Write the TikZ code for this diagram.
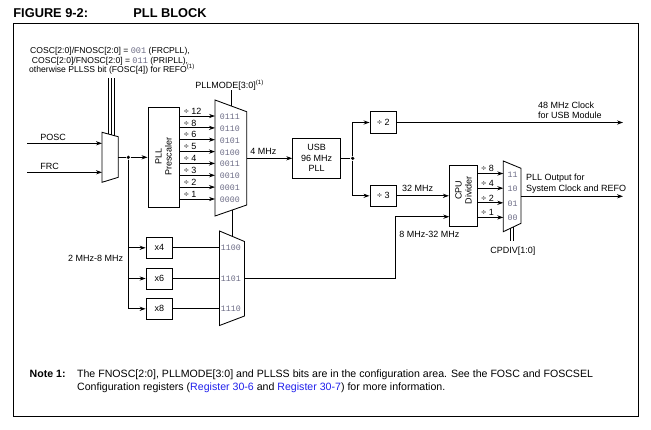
\documentclass[tikz,border=0pt]{standalone}
\usepackage{fontspec}
\setmainfont{Liberation Sans}
\newfontfamily\monof{Liberation Mono}
\usetikzlibrary{arrows.meta}
\definecolor{muxgray}{rgb}{0.42,0.42,0.52}
\definecolor{linkblue}{rgb}{0.12,0.12,0.92}
\begin{document}
\begin{tikzpicture}[x=1pt,y=-1pt,line width=0.85pt,
  lbl/.style={inner sep=0pt,font=\fontsize{9}{10}\selectfont},
  annl/.style={inner sep=0pt,anchor=base,font=\fontsize{8.6}{10}\selectfont},
  mlbl/.style={inner sep=0pt,anchor=west,font=\monof\fontsize{8.3}{9}\selectfont,text=muxgray},
  blk/.style={draw,inner sep=0pt,font=\fontsize{9}{10.5}\selectfont,align=center},
  arr/.style={-{Stealth[length=6pt,width=4.2pt]}},
  jdot/.style={circle,fill,inner sep=0pt,minimum size=3.6pt},
  ttlf/.style={anchor=base west,inner sep=0pt,font=\fontsize{12.8}{14}\bfseries\selectfont},
  notef/.style={anchor=base west,inner sep=0pt,font=\fontsize{10.6}{12}\selectfont}]
\useasboundingbox (0,0) rectangle (651,429);
% title and frame
\node[ttlf] (fig) at (13,17.8) {FIGURE 9-2:};
\node[ttlf] (ttl) at (133,17.8) {PLL BLOCK};
\draw[line width=0.95pt] (13,23) rectangle (638,416);
% annotation
\node[annl] (ann1) at (110,53.3) {COSC[2:0]/FNOSC[2:0] = {\monof\color{muxgray}001} (FRCPLL),};
\node[annl] (ann2) at (110,63.3) {COSC[2:0]/FNOSC[2:0] = {\monof\color{muxgray}011} (PRIPLL),};
\node[annl] (ann3) at (112,72.7) {otherwise PLLSS bit (FOSC[4]) for REFO\textsuperscript{(1)}};
% mux 1
\coordinate (m1a) at (102,132.3); \coordinate (m1b) at (118.3,136.7);
\coordinate (m1c) at (118.3,177.3); \coordinate (m1d) at (102,182.3);
\draw (m1a) -- (m1b) -- (m1c) -- (m1d) -- cycle;
\coordinate (m1i1) at (102,143.3); \coordinate (m1i2) at (102,172.3);
\coordinate (m1o) at (118.3,157.3);
\coordinate (s1t) at (108,78); \coordinate (s1b) at (108,133.9);
\coordinate (s2t) at (111,78); \coordinate (s2b) at (111,134.7);
\coordinate (s3t) at (114,78); \coordinate (s3b) at (114,135.5);
\draw (s1t) -- (s1b); \draw (s2t) -- (s2b); \draw (s3t) -- (s3b);
\coordinate (posc) at (27,143.3); \coordinate (frc) at (27,172.3);
\node[lbl,anchor=base west] (poscl) at (40,140) {POSC};
\node[lbl,anchor=base west] (frcl) at (40,169) {FRC};
\draw[arr] (posc) -- (m1i1);
\draw[arr] (frc) -- (m1i2);
% prescaler
\node[jdot] (d1) at (128.3,157.3) {};
\node[blk,minimum width=31.3pt,minimum height=100pt] (pre) at (163.6,157.3) {};
\node[lbl,rotate=90,align=center] (pret) at (163.6,156.7) {PLL\\Prescaler};
\draw (m1o) -- (d1);
\draw[arr] (d1) -- (pre.west);
% x4 x6 x8
\node[blk,minimum width=26.7pt,minimum height=21pt] (x4) at (159.4,247.8) {x4};
\node[blk,minimum width=26.7pt,minimum height=21pt] (x6) at (159.4,278.5) {x6};
\node[blk,minimum width=26.7pt,minimum height=21pt] (x8) at (159.4,308.8) {x8};
\draw[arr] (d1) |- (x4.west);
\draw[arr] (d1) |- (x6.west);
\draw[arr] (d1) |- (x8.west);
\node[lbl,anchor=base west] (range1) at (67.7,261) {2 MHz-8 MHz};
% mux 3
\coordinate (m3a) at (219.5,231); \coordinate (m3b) at (244.5,241.5);
\coordinate (m3c) at (244.5,316); \coordinate (m3d) at (219.5,325.5);
\draw (m3a) -- (m3b) -- (m3c) -- (m3d) -- cycle;
\coordinate (m3i1) at (219.5,247.8); \coordinate (m3i2) at (219.5,278.5);
\coordinate (m3i3) at (219.5,308.8); \coordinate (m3o) at (244.5,278.5);
\draw (x4.east) -- (m3i1); \draw (x6.east) -- (m3i2); \draw (x8.east) -- (m3i3);
\node[mlbl] (l1100) at (220.5,247.8) {1100};
\node[mlbl] (l1101) at (220.5,278.5) {1101};
\node[mlbl] (l1110) at (220.5,308.8) {1110};
% mux 2
\coordinate (m2a) at (215,100); \coordinate (m2b) at (246.7,111.7);
\coordinate (m2c) at (246.7,205); \coordinate (m2d) at (215,216);
\draw (m2a) -- (m2b) -- (m2c) -- (m2d) -- cycle;
\foreach \i/\y/\d/\c in {1/116/12/0111,2/127.9/8/0110,3/139.7/6/0101,4/151.6/5/0100,5/163.4/4/0011,6/175.3/3/0010,7/187.1/2/0001,8/199/1/0000}{
  \coordinate (m2i\i) at (215,\y);
  \draw[arr] (pre.east |- m2i\i) -- (m2i\i);
  \node[lbl,anchor=base west] (pd\i) at (183.5,\y-1.8) {÷ \d};
  \node[mlbl] (pl\i) at (219.5,\y+0.8) {\c};
}
\coordinate (m2s) at (231,105.9);
\node[lbl,anchor=base west] (pllmode) at (195,88) {PLLMODE[3:0]\textsuperscript{(1)}};
\draw (pllmode.south -| m2s) -- (m2s);
\coordinate (m2bot) at (232,210.1); \coordinate (m3top) at (232,236.3);
\draw (m2bot) -- (m3top);
\coordinate (m2o) at (246.7,158.3);
% USB PLL
\node[blk,minimum width=48pt,minimum height=40pt] (usb) at (316.7,158.3) {USB\\96 MHz\\PLL};
\draw[arr] (m2o) -- (usb.west);
\node[lbl,anchor=base west] (f4) at (250,154.8) {4 MHz};
\node[jdot] (d2) at (352.7,158.3) {};
\draw (usb.east) -- (d2);
\node[blk,minimum width=26.7pt,minimum height=21.6pt] (div2) at (383.3,122.5) {÷ 2};
\node[blk,minimum width=26.7pt,minimum height=21.6pt] (div3) at (383.3,195.8) {÷ 3};
\draw[arr] (d2) |- (div2.west);
\draw[arr] (d2) |- (div3.west);
\coordinate (usbout) at (623,122.5);
\draw[arr] (div2.east) -- (usbout);
\node[lbl,anchor=base west] (usbl1) at (537.7,108) {48 MHz Clock};
\node[lbl,anchor=base west] (usbl2) at (537.7,118.8) {for USB Module};
% CPU divider
\node[blk,minimum width=28.4pt,minimum height=61pt] (cpu) at (463.5,195.5) {};
\node[lbl,rotate=90,align=center] (cput) at (463.5,190) {CPU\\Divider};
\draw[arr] (div3.east) -- (cpu.west |- div3.east);
\node[lbl,anchor=base west] (f32) at (401.7,191.8) {32 MHz};
\coordinate (bend) at (395,216.7);
\coordinate (cpuin2) at (449.3,216.7);
\draw[arr] (m3o) -| (bend) -- (cpuin2);
\node[lbl,anchor=base west] (range2) at (399,237.8) {8 MHz-32 MHz};
% mux 4
\coordinate (m4a) at (503.3,161); \coordinate (m4b) at (521,168.3);
\coordinate (m4c) at (521,223.3); \coordinate (m4d) at (503.3,231.7);
\draw (m4a) -- (m4b) -- (m4c) -- (m4d) -- cycle;
\foreach \i/\y/\d/\c in {1/173.5/8/11,2/188.2/4/10,3/202.8/2/01,4/217.4/1/00}{
  \coordinate (m4i\i) at (503.3,\y);
  \draw[arr] (cpu.east |- m4i\i) -- (m4i\i);
  \node[lbl,anchor=base west] (cd\i) at (481,\y-1.8) {÷ \d};
  \node[mlbl] (cl\i) at (507.3,\y+0.8) {\c};
}
\coordinate (m4o) at (521,196.3); \coordinate (sysout) at (623,196.3);
\draw[arr] (m4o) -- (sysout);
\node[lbl,anchor=base west] (sysl1) at (525.7,180.8) {PLL Output for};
\node[lbl,anchor=base west] (sysl2) at (525.7,191.8) {System Clock and REFO};
\coordinate (cp1t) at (510.7,228.2); \coordinate (cp1b) at (510.7,241);
\coordinate (cp2t) at (513.3,227); \coordinate (cp2b) at (513.3,241);
\draw (cp1t) -- (cp1b); \draw (cp2t) -- (cp2b);
\node[lbl,anchor=base west] (cpdiv) at (490,253) {CPDIV[1:0]};
% note
\node[notef,font=\fontsize{10.6}{12}\bfseries\selectfont] (note) at (29.3,377.7) {Note 1:};
\node[notef] (notea) at (76.7,377.7) {The FNOSC[2:0], PLLMODE[3:0] and PLLSS bits are in the configuration area. See the FOSC and FOSCSEL};
\node[notef] (noteb) at (76.7,390.3) {Configuration registers (\textcolor{linkblue}{Register 30-6} and \textcolor{linkblue}{Register 30-7}) for more information.};
\end{tikzpicture}
\end{document}
